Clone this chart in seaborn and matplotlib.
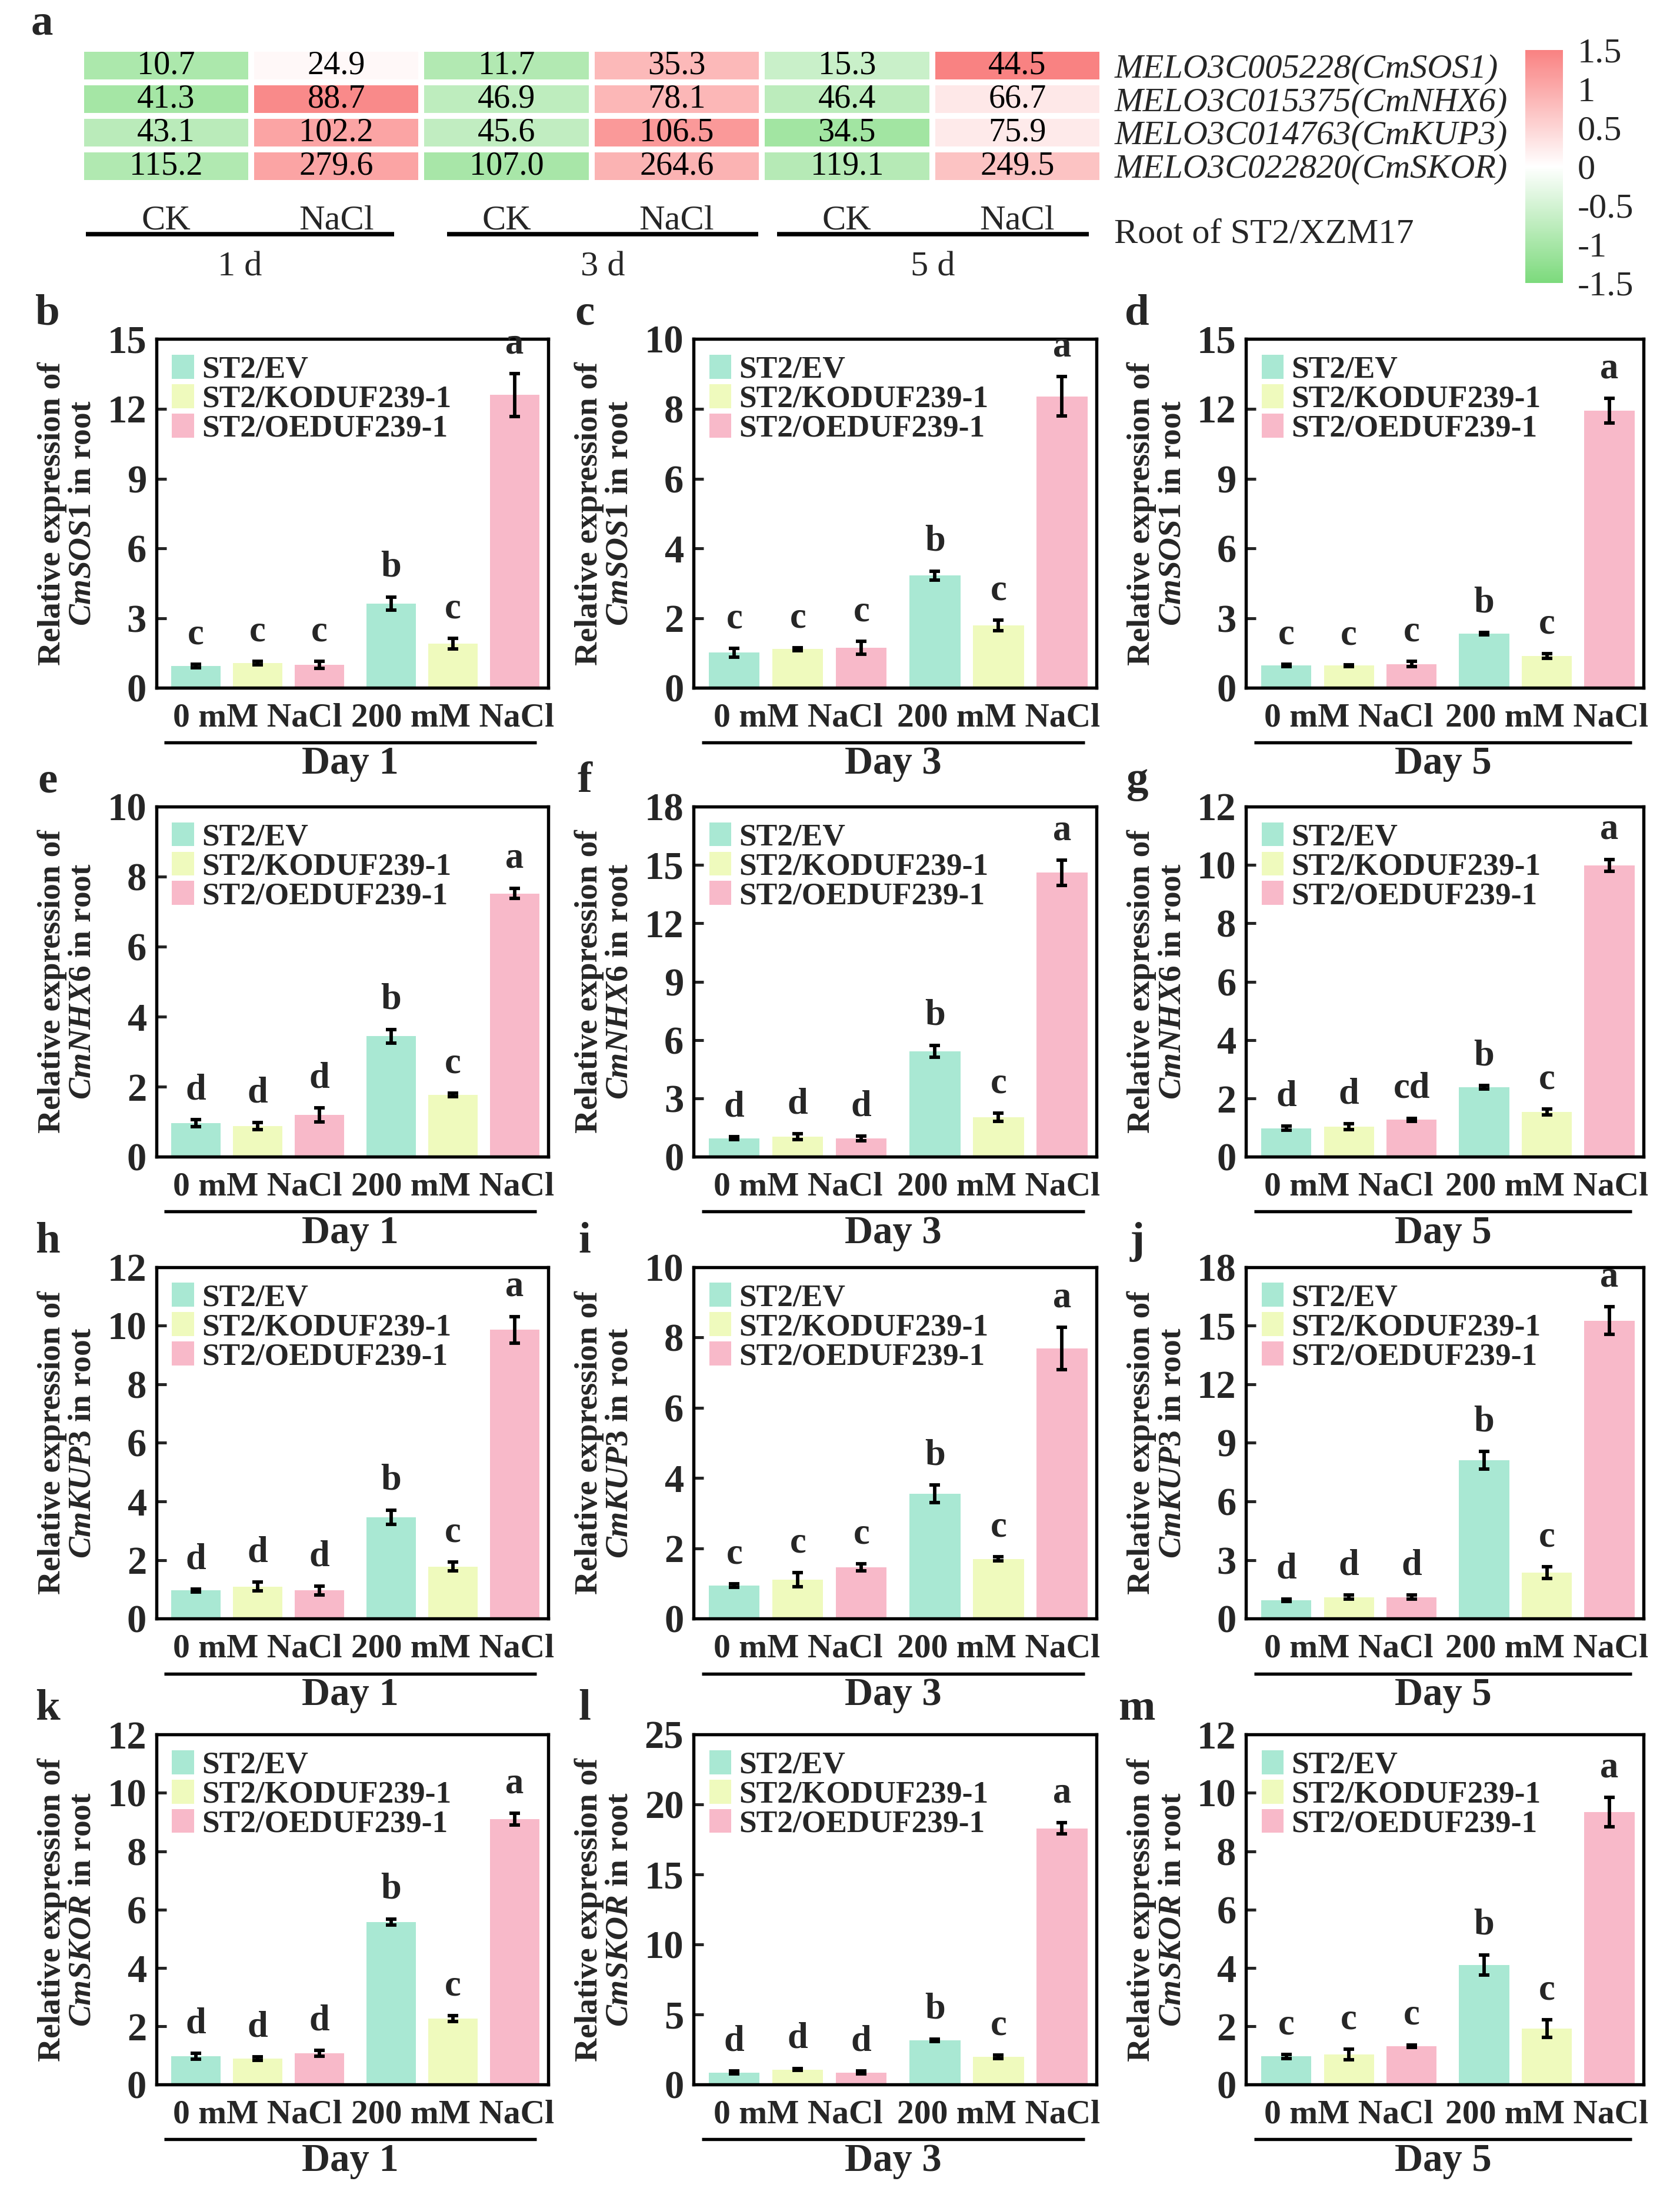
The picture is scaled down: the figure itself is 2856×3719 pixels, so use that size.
import numpy as np
import pandas as pd
import matplotlib
matplotlib.use("Agg")
import matplotlib.pyplot as plt
import matplotlib.transforms as mtransforms
from matplotlib.colors import LinearSegmentedColormap
from matplotlib.patches import Patch
import seaborn as sns

sns.set_theme(style="white")
plt.rcParams["font.family"] = ["Liberation Serif", "DejaVu Serif"]
plt.rcParams["font.weight"] = "bold"
plt.rcParams["mathtext.fontset"] = "custom"
plt.rcParams["mathtext.it"] = "Liberation Serif:italic:bold"
plt.rcParams["mathtext.rm"] = "Liberation Serif:bold"
plt.rcParams["mathtext.bf"] = "Liberation Serif:bold"

# ---- panel a: heatmap (FPKM, root of ST2/XZM17) ----
hm_genes = ["MELO3C005228(CmSOS1)", "MELO3C015375(CmNHX6)",
            "MELO3C014763(CmKUP3)", "MELO3C022820(CmSKOR)"]
hm_cols = ["CK", "NaCl", "CK", "NaCl", "CK", "NaCl"]
hm_days = ["1 d", "3 d", "5 d"]
hm_values = [
    [10.7, 24.9, 11.7, 35.3, 15.3, 44.5],
    [41.3, 88.7, 46.9, 78.1, 46.4, 66.7],
    [43.1, 102.2, 45.6, 106.5, 34.5, 75.9],
    [115.2, 279.6, 107.0, 264.6, 119.1, 249.5],
]
cbar_ticks = [1.5, 1, 0.5, 0, -0.5, -1, -1.5]

# ---- panels b-m: qRT-PCR ----
genotypes = ["ST2/EV", "ST2/KODUF239-1", "ST2/OEDUF239-1"]
treatments = ["0 mM NaCl", "200 mM NaCl"]
days = ["Day 1", "Day 3", "Day 5"]
genes = ["CmSOS1", "CmNHX6", "CmKUP3", "CmSKOR"]

# order in each row: EV, KO, OE at 0 mM, then EV, KO, OE at 200 mM
sos1_mean = [[0.94, 1.07, 1.00, 3.63, 1.90, 12.60],
             [1.01, 1.11, 1.15, 3.22, 1.79, 8.36],
             [0.96, 0.96, 1.03, 2.33, 1.37, 11.92]]
sos1_sd = [[0.08, 0.07, 0.15, 0.28, 0.22, 0.92],
           [0.12, 0.04, 0.19, 0.13, 0.15, 0.57],
           [0.05, 0.04, 0.12, 0.05, 0.10, 0.54]]
sos1_sig = [["c", "c", "c", "b", "c", "a"],
            ["c", "c", "c", "b", "c", "a"],
            ["c", "c", "c", "b", "c", "a"]]

nhx6_mean = [[0.96, 0.88, 1.20, 3.44, 1.76, 7.52],
             [0.95, 1.03, 0.95, 5.43, 2.03, 14.60],
             [0.98, 1.03, 1.27, 2.38, 1.54, 9.99]]
nhx6_sd = [[0.10, 0.10, 0.20, 0.20, 0.05, 0.15],
           [0.07, 0.15, 0.12, 0.30, 0.20, 0.65],
           [0.07, 0.10, 0.05, 0.06, 0.10, 0.20]]
nhx6_sig = [["d", "d", "d", "b", "c", "a"],
            ["d", "d", "d", "b", "c", "a"],
            ["d", "d", "cd", "b", "c", "a"]]

kup3_mean = [[0.96, 1.10, 0.96, 3.46, 1.78, 9.86],
             [0.94, 1.11, 1.46, 3.55, 1.70, 7.68],
             [0.95, 1.10, 1.10, 8.10, 2.35, 15.26]]
kup3_sd = [[0.05, 0.15, 0.15, 0.25, 0.15, 0.45],
           [0.05, 0.20, 0.10, 0.25, 0.06, 0.60],
           [0.06, 0.10, 0.10, 0.45, 0.30, 0.70]]
kup3_sig = [["d", "d", "d", "b", "c", "a"],
            ["c", "c", "c", "b", "c", "a"],
            ["d", "d", "d", "b", "c", "a"]]

skor_mean = [[0.97, 0.89, 1.08, 5.58, 2.27, 9.10],
             [0.87, 1.09, 0.87, 3.17, 2.00, 18.30],
             [0.97, 1.03, 1.32, 4.10, 1.92, 9.34]]
skor_sd = [[0.10, 0.06, 0.10, 0.10, 0.10, 0.20],
           [0.10, 0.08, 0.10, 0.10, 0.12, 0.40],
           [0.07, 0.18, 0.05, 0.35, 0.30, 0.50]]
skor_sig = [["d", "d", "d", "b", "c", "a"],
            ["d", "d", "d", "b", "c", "a"],
            ["c", "c", "c", "b", "c", "a"]]

y_max = [[15, 10, 15], [10, 18, 12], [12, 10, 18], [12, 25, 12]]
y_step = [[3, 2, 3], [2, 3, 2], [2, 2, 3], [2, 5, 2]]
panel_letters = ["b", "c", "d", "e", "f", "g", "h", "i", "j", "k", "l", "m"]

bar_colors = ["#A9E8D3", "#EFFABD", "#F8B9C9"]

W, H = 1204.0, 1568.0  # layout measured on the shrunk reference
fig = plt.figure(figsize=(2856 / 300, 3719 / 300), dpi=300)

# ---------------- heatmap ----------------
hax = fig.add_axes([58 / W, 1 - 131 / H, (790 - 58) / W, 96 / H])
cax = fig.add_axes([1093 / W, 1 - 203 / H, 27 / W, 167 / H])

hm_df = pd.DataFrame(hm_values, index=hm_genes)
hm_z = hm_df.sub(hm_df.mean(axis=1), axis=0).div(hm_df.std(axis=1), axis=0)
cmap = LinearSegmentedColormap.from_list("gwr", ["#7CDA7C", "#FFFFFF", "#F98282"])
sns.heatmap(hm_z, ax=hax, cbar_ax=cax, cmap=cmap, vmin=-1.5, vmax=1.5,
            annot=hm_df.values, fmt=".1f",
            annot_kws={"fontsize": 13.5, "fontweight": "normal", "color": "black"},
            linewidths=2, linecolor="white",
            xticklabels=hm_cols, yticklabels=hm_genes)
hax.yaxis.tick_right()
hax.tick_params(axis="both", length=0)
hax.tick_params(axis="x", pad=9, labelsize=14.5, rotation=0)
hax.tick_params(axis="y", pad=5, labelsize=14, rotation=0)
for lbl in hax.get_xticklabels():
    lbl.set_fontweight("normal")
for lbl in hax.get_yticklabels():
    lbl.set_fontweight("normal")
    lbl.set_fontstyle("italic")

btrans = mtransforms.blended_transform_factory(hax.transData, hax.transAxes)
day_spans = [(0.03, 1.84), (2.15, 3.98), (4.09, 5.92)]
for (x0, x1), d in zip(day_spans, hm_days):
    hax.plot([x0, x1], [-0.385, -0.385], transform=btrans, color="black",
             lw=1.8, clip_on=False, solid_capstyle="butt")
    hax.text((x0 + x1) / 2, -0.63, d, transform=btrans, ha="center", va="center",
             fontsize=14.5, fontweight="normal")
hax.text(6.07, -0.385, "Root of ST2/XZM17", transform=btrans, ha="left",
         va="center", fontsize=14.5, fontweight="normal")

cbar = hax.collections[0].colorbar
cbar.set_ticks(cbar_ticks)
cbar.set_ticklabels([f"{t:g}" for t in cbar_ticks])
cbar.outline.set_visible(False)
cax.tick_params(length=0, labelsize=14.5, pad=6)
for lbl in cax.get_yticklabels():
    lbl.set_fontweight("normal")

fig.text(30 / W, 1 - 17 / H, "a", fontsize=18, fontweight="bold", ha="center", va="center")

# ---------------- bar panels ----------------
col_x = [(112, 393), (497, 786), (893, 1178)]
row_y = [(243, 493), (578, 829), (908, 1160), (1243, 1494)]
gene_data = [(sos1_mean, sos1_sd, sos1_sig), (nhx6_mean, nhx6_sd, nhx6_sig),
             (kup3_mean, kup3_sd, kup3_sig), (skor_mean, skor_sd, skor_sig)]

k = 0
for r, gene in enumerate(genes):
    means, sds, sigs = gene_data[r]
    for c, day in enumerate(days):
        x0, x1 = col_x[c]
        y0, y1 = row_y[r]
        ax = fig.add_axes([x0 / W, 1 - y1 / H, (x1 - x0) / W, (y1 - y0) / H])
        df = pd.DataFrame({
            "treatment": np.repeat(treatments, 3),
            "genotype": genotypes * 2,
            "value": means[c],
        })
        sns.barplot(data=df, x="treatment", y="value", hue="genotype",
                    order=treatments, hue_order=genotypes, palette=bar_colors,
                    width=0.95, gap=0.2, errorbar=None, saturation=1,
                    linewidth=0, legend=False, ax=ax)
        ymax = y_max[r][c]
        bar_conts = list(ax.containers)
        for h, cont in enumerate(bar_conts):
            for i, bar in enumerate(cont):
                idx = i * 3 + h
                bx = bar.get_x() + bar.get_width() / 2
                by = bar.get_height()
                err = sds[c][idx]
                ax.errorbar(bx, by, yerr=err, fmt="none", ecolor="black",
                            elinewidth=1.4, capsize=2.2, capthick=1.4, zorder=3)
                ax.text(bx, by + err + ymax * 0.035, sigs[c][idx], ha="center",
                        va="bottom", fontsize=15, fontweight="bold")

        ax.set_xlim(-0.52, 1.49)
        ax.set_ylim(0, ymax)
        ax.set_yticks(np.arange(0, ymax + 0.01, y_step[r][c]))
        ax.set_xlabel("")
        ax.set_ylabel("Relative expression of\n$\\mathit{" + gene + "}$ in root",
                      fontsize=13.3, fontweight="bold", linespacing=1.05, labelpad=4)
        for sp in ax.spines.values():
            sp.set_visible(True)
            sp.set_color("black")
            sp.set_linewidth(1.3)
        ax.tick_params(axis="y", direction="in", length=4, width=1.2,
                       labelsize=16, pad=4, left=True)
        ax.tick_params(axis="x", length=0, labelsize=13.8, pad=6)

        handles = [Patch(facecolor=col, edgecolor="none") for col in bar_colors]
        ax.legend(handles, genotypes, loc="upper left", frameon=False,
                  prop={"weight": "bold", "size": 12.8}, handlelength=0.7,
                  handleheight=0.8, handletextpad=0.25, labelspacing=0.0,
                  borderaxespad=0.25, borderpad=0.25)

        ax.plot([0.02, 0.97], [-0.156, -0.156], transform=ax.transAxes,
                color="black", lw=1.3, clip_on=False, solid_capstyle="butt")
        ax.text(0.495, -0.218, day, transform=ax.transAxes, ha="center",
                va="center", fontsize=16, fontweight="bold")

        fig.text((x0 - 78) / W, 1 - (y0 - 18) / H, panel_letters[k],
                 fontsize=18, fontweight="bold", ha="center", va="center")
        k += 1

fig.savefig("out.png", dpi=300)
